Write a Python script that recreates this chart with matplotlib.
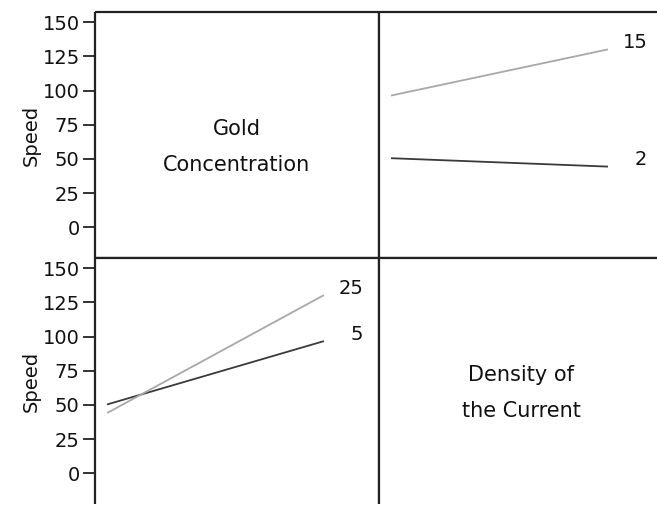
import numpy as np
import matplotlib
matplotlib.use('Agg')
import matplotlib.pyplot as plt

# cell means of Speed, rows = gold concentration, cols = density of the current
gold_levels = ['2', '15']
density_levels = ['5', '25']
speed_means = np.array([[50.5, 44.4],
                        [96.5, 130.0]])
yticks = [0, 25, 50, 75, 100, 125, 150]
factor_names = ['Gold\nConcentration', 'Density of\nthe Current']

line_colors = ['#3a3a3a', '#a8a8a8']
spine_color = '#222222'

fig = plt.figure(figsize=(6.57, 5.05), dpi=100)
W = 284 / 657
H = 246 / 505
x0 = 95 / 657
x1 = 379 / 657
ytop = 1 - 258 / 505
ybot = ytop - H

ax_tl = fig.add_axes([x0, ytop, W, H])
ax_tr = fig.add_axes([x1, ytop, W, H])
ax_bl = fig.add_axes([x0, ybot, W, H])
ax_br = fig.add_axes([x1, ybot, W, H])

for ax in (ax_tl, ax_tr, ax_bl, ax_br):
    ax.set_xlim(-0.06, 1.26)
    ax.set_ylim(-22.5, 157.5)
    ax.set_xticks([])
    for s in ax.spines.values():
        s.set_linewidth(1.6)
        s.set_color(spine_color)
        s.set_capstyle('butt')

for ax in (ax_tr, ax_br):
    ax.set_yticks([])
    ax.spines['right'].set_visible(False)
for ax in (ax_bl, ax_br):
    ax.spines['bottom'].set_visible(False)

for ax in (ax_tl, ax_bl):
    ax.set_yticks(yticks)
    ax.set_yticklabels([str(v) for v in yticks])
    ax.tick_params(axis='y', length=9, width=1.2, pad=2, labelsize=14,
                   colors='#111111')
    ax.set_ylabel('Speed', fontsize=14, labelpad=1, color='#111111')

# diagonal panels with factor names
for ax, name in ((ax_tl, factor_names[0]), (ax_br, factor_names[1])):
    ax.text(0.5, 0.45, name, transform=ax.transAxes,
            ha='center', va='center', fontsize=15, linespacing=2.0,
            color='#111111')

xs = np.arange(2)

# top right: Speed vs density, one line per gold level
for i, g in enumerate(gold_levels):
    ax_tr.plot(xs, speed_means[i, :], color=line_colors[i], lw=1.3)
    ax_tr.annotate(g, xy=(1, speed_means[i, 1]), xytext=(29, 5),
                   textcoords='offset points', ha='right', va='center',
                   fontsize=14, color='#111111')

# bottom left: Speed vs gold, one line per density level
for j, d in enumerate(density_levels):
    ax_bl.plot(xs, speed_means[:, j], color=line_colors[j], lw=1.3)
    ax_bl.annotate(d, xy=(1, speed_means[1, j]), xytext=(29, 5),
                   textcoords='offset points', ha='right', va='center',
                   fontsize=14, color='#111111')

fig.savefig('out.png', dpi=100)
